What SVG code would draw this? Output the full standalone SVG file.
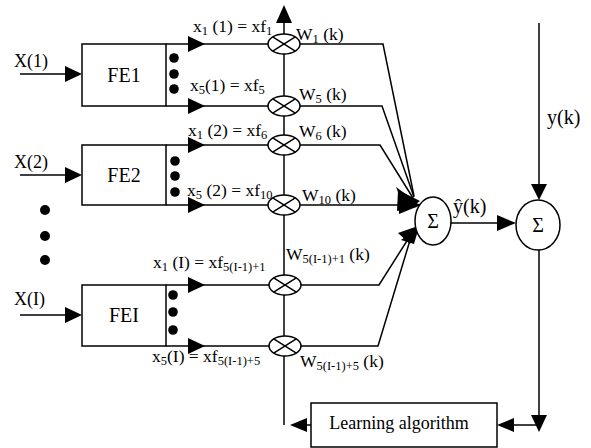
<svg xmlns="http://www.w3.org/2000/svg" width="591" height="448" viewBox="0 0 591 448">
<style>
.l{fill:none;stroke:#000;stroke-width:1.5}
.b{fill:#fff;stroke:#000;stroke-width:1.5}
.a{fill:#000;stroke:none}
.t{font-family:"Liberation Serif","Times New Roman",serif;fill:#000;font-size:17.5px}
.s{font-size:12.5px}
.big{font-size:20px}
.m{fill:none;stroke:#000;stroke-width:1.5}
</style>
<defs>
<g id="mul"><ellipse cx="0" cy="0" rx="16" ry="10" class="b"/><path d="M-11.3,-7.1L11.3,7.1M-11.3,7.1L11.3,-7.1" class="m"/></g>
<path id="ar" d="M0,0L-17,-8L-17,8Z" class="a"/>
</defs>
<rect width="591" height="448" fill="#fff"/>

<g id="connectors">
<line x1="20" y1="74" x2="70" y2="74" class="l"/><use href="#ar" transform="translate(82,74)"/>
<line x1="20" y1="175" x2="70" y2="175" class="l"/><use href="#ar" transform="translate(82,175)"/>
<line x1="20" y1="315" x2="70" y2="315" class="l"/><use href="#ar" transform="translate(82,315)"/>
<line x1="166" y1="44" x2="270" y2="44" class="l"/><use href="#ar" transform="translate(205,44)"/>
<line x1="166" y1="106" x2="270" y2="106" class="l"/><use href="#ar" transform="translate(205,106)"/>
<line x1="166" y1="145" x2="270" y2="145" class="l"/><use href="#ar" transform="translate(205,145)"/>
<line x1="166" y1="205" x2="270" y2="205" class="l"/><use href="#ar" transform="translate(205,205)"/>
<line x1="166" y1="285" x2="270" y2="285" class="l"/><use href="#ar" transform="translate(205,285)"/>
<line x1="166" y1="346" x2="270" y2="346" class="l"/><use href="#ar" transform="translate(205,346)"/>
<line x1="284" y1="20" x2="284" y2="425" class="l"/>
<path d="M284,5L276,23L292,23Z" class="a"/>
<polyline points="300,44 383,44 414,196" class="l"/>
<polyline points="300,106 382,106 414,197" class="l"/>
<polyline points="300,145 380,145 413,198" class="l"/>
<line x1="300" y1="205" x2="405" y2="205" class="l"/>
<polyline points="300,285 379,285 410,236" class="l"/>
<polyline points="300,346 378,346 411,237" class="l"/>
<path d="M417,207L398,191L397,211Z" class="a"/>
<path d="M418,203L396,187L404,207Z" class="a"/>
<path d="M420,201L402,192L410,208Z" class="a"/>
<path d="M421,205L399,196L399,214Z" class="a"/>
<path d="M418,226L398,233L410,244Z" class="a"/>
<path d="M419,227L401,240L414,244Z" class="a"/>
<line x1="451" y1="223" x2="502" y2="223" class="l"/>
<path d="M516,223L497,215L497,231Z" class="a"/>
<line x1="539" y1="23" x2="539" y2="190" class="l"/>
<path d="M539,200L531,184L547,184Z" class="a"/>
<line x1="539" y1="250" x2="539" y2="420" class="l"/>
<path d="M539,432L531,415L547,415Z" class="a"/>
<line x1="539" y1="425" x2="508" y2="425" class="l"/>
<path d="M497,425L514,418L514,432Z" class="a"/>
<line x1="311" y1="425" x2="300" y2="425" class="l"/>
<path d="M290,425L307,418L307,432Z" class="a"/>
</g>

<g id="FE1"><rect x="82" y="44" width="84" height="62" class="b"/><text x="124" y="82" text-anchor="middle" class="t big">FE1</text>
<circle cx="174" cy="58" r="4.8"/><circle cx="174" cy="74" r="4.8"/><circle cx="174" cy="89" r="4.8"/></g>
<g id="FE2"><rect x="82" y="145" width="84" height="60" class="b"/><text x="124" y="182" text-anchor="middle" class="t big">FE2</text>
<circle cx="175" cy="161" r="4.8"/><circle cx="175" cy="176" r="4.8"/><circle cx="175" cy="192" r="4.8"/></g>
<g id="FEI"><rect x="82" y="285" width="84" height="61" class="b"/><text x="124" y="322" text-anchor="middle" class="t big">FEI</text>
<circle cx="173" cy="295" r="4.8"/><circle cx="173" cy="312" r="4.8"/><circle cx="173" cy="330" r="4.8"/></g>
<g id="vdots"><circle cx="45" cy="210" r="5"/><circle cx="45" cy="236" r="5"/><circle cx="45" cy="260" r="5"/></g>

<g id="inputs">
<text x="14" y="67" class="t" style="font-size:18px">X(1)</text>
<text x="14" y="168" class="t" style="font-size:18px">X(2)</text>
<text x="14" y="305" class="t" style="font-size:18px">X(I)</text>
</g>

<g id="features">
<text x="193" y="32" class="t">x<tspan class="s" dy="3">1</tspan><tspan dy="-3"> (1) = xf</tspan><tspan class="s" dy="3">1</tspan></text>
<text x="190" y="91" class="t">x<tspan class="s" dy="3">5</tspan><tspan dy="-3">(1) = xf</tspan><tspan class="s" dy="3">5</tspan></text>
<text x="188" y="136" class="t">x<tspan class="s" dy="3">1</tspan><tspan dy="-3"> (2) = xf</tspan><tspan class="s" dy="3">6</tspan></text>
<text x="187" y="196" class="t">x<tspan class="s" dy="3">5</tspan><tspan dy="-3"> (2) = xf</tspan><tspan class="s" dy="3">10</tspan></text>
<text x="153" y="268" class="t">x<tspan class="s" dy="3">1</tspan><tspan dy="-3"> (I) = xf</tspan><tspan class="s" dy="3">5(I-1)+1</tspan></text>
<text x="152" y="362" class="t">x<tspan class="s" dy="3">5</tspan><tspan dy="-3">(I) = xf</tspan><tspan class="s" dy="3">5(I-1)+5</tspan></text>
</g>

<g id="multipliers">
<use href="#mul" transform="translate(284,44)"/>
<use href="#mul" transform="translate(284,106)"/>
<use href="#mul" transform="translate(284,145)"/>
<use href="#mul" transform="translate(284,205)"/>
<use href="#mul" transform="translate(285,285)"/>
<use href="#mul" transform="translate(285,346)"/>
</g>

<g id="weights">
<text x="296" y="40" class="t">W<tspan class="s" dy="3">1</tspan><tspan dy="-3"> (k)</tspan></text>
<text x="299" y="100" class="t">W<tspan class="s" dy="3">5</tspan><tspan dy="-3"> (k)</tspan></text>
<text x="299" y="137" class="t">W<tspan class="s" dy="3">6</tspan><tspan dy="-3"> (k)</tspan></text>
<text x="302" y="201" class="t">W<tspan class="s" dy="3">10</tspan><tspan dy="-3"> (k)</tspan></text>
<text x="286" y="260" class="t">W<tspan class="s" dy="3">5(I-1)+1</tspan><tspan dy="-3">  (k)</tspan></text>
<text x="300" y="367" class="t">W<tspan class="s" dy="3">5(I-1)+5</tspan><tspan dy="-3"> (k)</tspan></text>
</g>

<g id="sum1"><ellipse cx="433" cy="221" rx="18" ry="24" class="b"/><text x="433" y="228" text-anchor="middle" class="t" style="font-size:20px">Σ</text></g>
<g id="sum2"><ellipse cx="538" cy="225" rx="22" ry="25" class="b"/><text x="538" y="232" text-anchor="middle" class="t" style="font-size:20px">Σ</text></g>
<text x="453" y="213" class="t" style="font-size:20px">ŷ(k)</text>
<text x="547" y="124" class="t" style="font-size:20px">y(k)</text>

<g id="learning"><rect x="311" y="403" width="186" height="44" class="b"/><text x="399" y="429" text-anchor="middle" class="t" style="font-size:18px">Learning algorithm</text></g>
</svg>
